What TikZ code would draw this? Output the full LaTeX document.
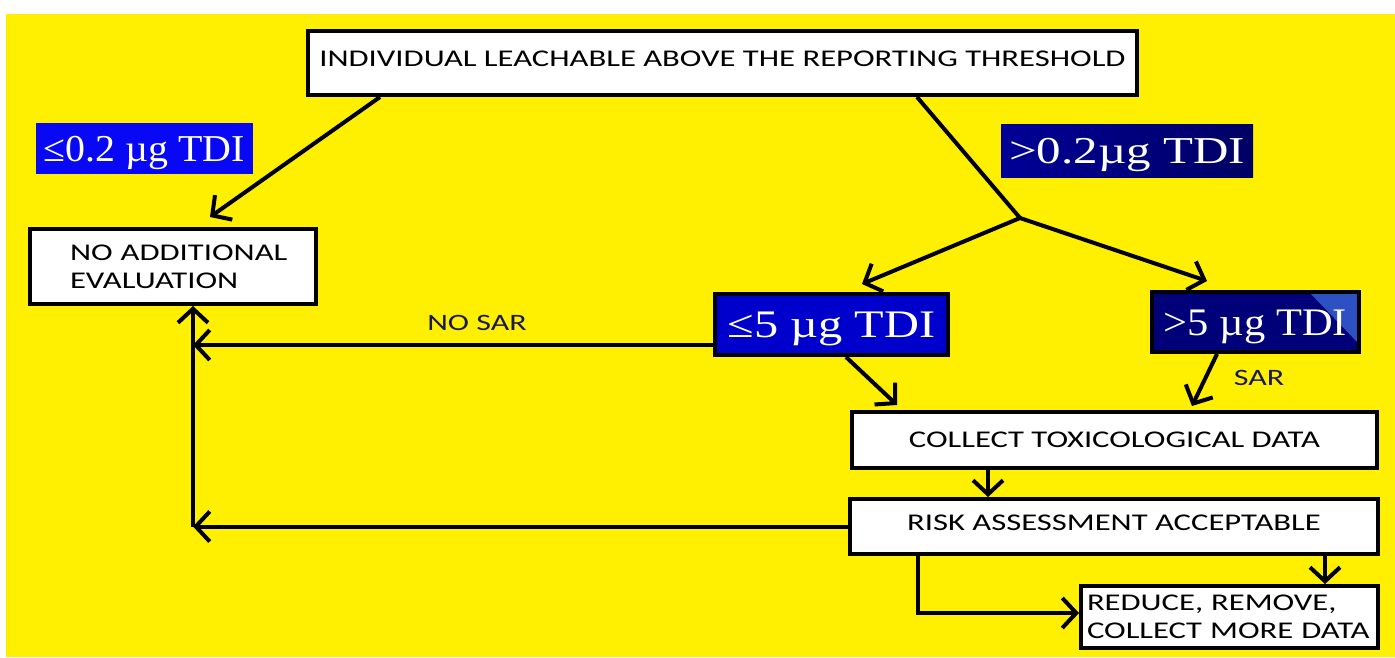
\documentclass[tikz,border=0pt]{standalone}
\usepackage{fontspec}
\usepackage{graphicx}
\setmainfont{Carlito}[FakeStretch=1.36]
\newfontfamily\tnr{Liberation Serif}
\usetikzlibrary{arrows.meta}
\definecolor{bgyellow}{RGB}{255,239,0}
\definecolor{blueA}{RGB}{8,8,245}
\definecolor{blueB}{RGB}{0,0,205}
\definecolor{navyA}{RGB}{0,0,120}
\definecolor{navyL}{RGB}{0,0,150}
\definecolor{navyR}{RGB}{0,0,100}
\definecolor{cornerblue}{RGB}{45,80,195}
\definecolor{notecol}{RGB}{25,25,85}
\begin{document}
\begin{tikzpicture}[x=1pt,y=-1pt,
  box/.style={draw=black,line width=4pt,fill=white,inner sep=0pt,font=\fontsize{24}{28}\selectfont},
  capc/.style={text height=15.5pt,text depth=#1},
  capc/.default=0pt,
  lab/.style={inner sep=0pt,text=white,text height=26pt,text depth=0pt},
  conn/.style={line width=4pt,-{Straight Barb[length=14pt,width=30pt]}},
  plain/.style={line width=4pt},
  note/.style={text=notecol,inner sep=0pt,font=\fontsize{23.5}{26}\selectfont}]
\useasboundingbox (0,0) rectangle (1395,657);
\fill[white] (0,0) rectangle (1395,657);
\fill[bgyellow] (6,14) rectangle (1395,657);

% boxes
\node[box,capc=9pt,minimum width=829pt,minimum height=64pt] (top) at (722.5,63)
  {INDIVIDUAL LEACHABLE ABOVE THE REPORTING THRESHOLD};
\node[box,minimum width=286pt,minimum height=75pt,text width=286pt,align=left] (nae) at (173,266.5)
  {\hspace*{40pt}NO ADDITIONAL\\\hspace*{40pt}EVALUATION};
\node[box,capc,minimum width=525pt,minimum height=56pt] (ctd) at (1114.5,440) {COLLECT TOXICOLOGICAL DATA};
\node[box,capc=7pt,minimum width=528pt,minimum height=55pt] (raa) at (1114,526.5) {RISK ASSESSMENT ACCEPTABLE};
\node[box,minimum width=297pt,minimum height=62pt,text width=297pt,align=left] (reduce) at (1229.5,617)
  {\hspace*{6pt}REDUCE, REMOVE,\\\hspace*{6pt}COLLECT MORE DATA};

% blue labels
\node[lab,fill=blueA,minimum width=217pt,minimum height=51pt,font=\tnr\fontsize{38}{38}\selectfont] (le02) at (144.5,148.5)
  {\scalebox{1.05}[1]{≤0.2 µg TDI}};
\node[lab,left color=navyL,right color=navyR,minimum width=252pt,minimum height=53pt,font=\tnr\fontsize{38}{38}\selectfont] (gt02) at (1127,150.5)
  {\scalebox{1.29}[1]{>0.2µg TDI}};
\node[lab,fill=blueB,draw=black,line width=4pt,minimum width=233pt,minimum height=61pt,font=\tnr\fontsize{39}{39}\selectfont] (le5) at (831.5,324.5)
  {\scalebox{1.24}[1]{≤5 µg TDI}};
\node[lab,fill=navyA,draw=black,line width=4pt,minimum width=207pt,minimum height=60pt,font=\tnr\fontsize{39}{39}\selectfont,
  path picture={\fill[cornerblue] ([xshift=-50pt]path picture bounding box.north east)
     -- (path picture bounding box.north east) -- ([yshift=-52pt]path picture bounding box.north east) -- cycle;}]
  (gt5) at (1255.5,322) {\scalebox{1.09}[1]{>5 µg TDI}};

% labels on connectors
\node[note] (nosar) at (477,323) {NO SAR};
\node[note] (sar) at (1259,378) {SAR};

% free ends
\coordinate (naein) at (210,217);
\coordinate (J) at (1020,218);
\coordinate (le5in) at (862,284);
\coordinate (gt5in) at (1207,281);
\coordinate (vtip) at (193,345);

% connectors
\draw[conn] ([xshift=74pt]top.south west) -- (naein);
\draw[plain] ([xshift=611pt]top.south west) -- (J);
\draw[conn] (J) -- (le5in);
\draw[conn] (J) -- (gt5in);
\draw[conn] ([yshift=-20.5pt]le5.west) -- (vtip);
\draw[conn] (raa.west) -- (raa.west -| vtip);
\draw[conn] (raa.west -| vtip) -- (vtip |- nae.south);
\draw[conn] ([xshift=133pt]le5.south west) -- ([shift={(47,-5)}]ctd.north west);
\draw[conn] ([xshift=67pt]gt5.south west) -- ([shift={(342,-4)}]ctd.north west);
\draw[conn] ([xshift=-126.5pt]ctd.south) -- ([xshift=-126.5pt]ctd.south |- raa.north);
\draw[conn] ([xshift=70pt]raa.south west) |- ([yshift=4pt]reduce.west);
\draw[conn] ([xshift=-55pt]raa.south east) -- ([xshift=-55pt]raa.south east |- reduce.north);
\end{tikzpicture}
\end{document}
